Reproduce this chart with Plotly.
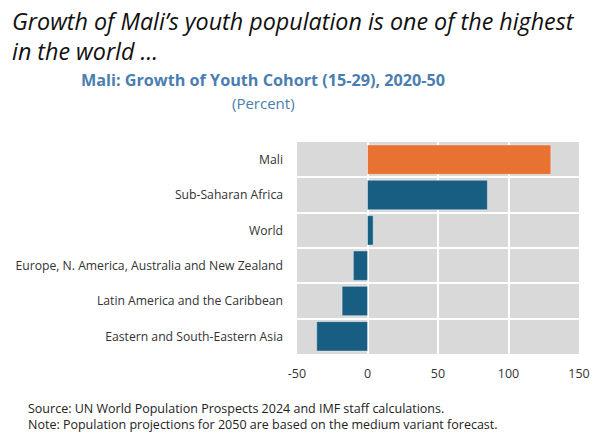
import plotly.graph_objects as go

categories = ["Mali", "Sub-Saharan Africa", "World",
              "Europe, N. America, Australia and New Zealand",
              "Latin America and the Caribbean", "Eastern and South-Eastern Asia"]
values = [130, 85, 4, -10, -18, -36]
colors = ["#E87232", "#175E82", "#175E82", "#175E82", "#175E82", "#175E82"]
tick_vals = [-50, 0, 50, 100, 150]
tick_text = [str(v) for v in tick_vals]

L, R, T, B = 297, 14, 142, 91
W, H = 593, 445
W_plot = W - L - R
H_plot = H - T - B
def px(xp):
    return (xp - L) / W_plot
def py(yp):
    return (H - B - yp) / H_plot

fig = go.Figure()
fig.add_trace(go.Bar(
    x=values, y=categories, orientation="h",
    marker=dict(color=colors, line=dict(color="rgba(255,255,255,0.35)", width=1)),
    hoverinfo="x+y", showlegend=False,
))

fig.update_layout(
    width=W, height=H,
    margin=dict(l=L, r=R, t=T, b=B, autoexpand=False),
    paper_bgcolor="white", plot_bgcolor="#D9D9D9",
    bargap=0.17,
    font=dict(family="Open Sans, sans-serif", color="#333333"),
    xaxis=dict(range=[-50, 150], tickvals=tick_vals, ticktext=tick_text, showgrid=True,
               gridcolor="white", gridwidth=1.5, zeroline=True, zerolinecolor="white",
               zerolinewidth=1.5, tickfont=dict(size=12.5, color="#333333"),
               showline=False, ticks="", automargin=False, ticklabelstandoff=10),
    yaxis=dict(categoryorder="array", categoryarray=categories[::-1],
               tickson="boundaries", showgrid=True, gridcolor="white", gridwidth=1.5,
               ticks="", tickfont=dict(size=12.2, color="#333333"), ticklabelstandoff=13,
               automargin=False),
)

fig.add_annotation(text="<i>Growth of Mali’s youth population is one of the highest<br>in the world …</i>",
                   x=px(10), y=py(3), xref="paper", yref="paper", showarrow=False,
                   xanchor="left", yanchor="top", align="left",
                   font=dict(family="Open Sans, sans-serif", size=23.3, color="#111111"))
fig.add_annotation(text="<b>Mali: Growth of Youth Cohort (15-29), 2020-50</b>",
                   x=px(263), y=py(80), xref="paper", yref="paper", showarrow=False,
                   xanchor="center", yanchor="middle",
                   font=dict(family="Open Sans, sans-serif", size=16.2, color="#4A7EB0"))
fig.add_annotation(text="(Percent)",
                   x=px(263), y=py(103), xref="paper", yref="paper", showarrow=False,
                   xanchor="center", yanchor="middle",
                   font=dict(family="Open Sans, sans-serif", size=15, color="#4A7EB0"))
fig.add_annotation(text="Source: UN World Population Prospects 2024 and IMF staff calculations.<br>"
                        "Note: Population projections for 2050 are based on the medium variant forecast.",
                   x=px(26), y=py(416.5), xref="paper", yref="paper", showarrow=False,
                   xanchor="left", yanchor="middle", align="left",
                   font=dict(family="Open Sans, sans-serif", size=12.5, color="#222222"))

fig.write_html("out.html")
